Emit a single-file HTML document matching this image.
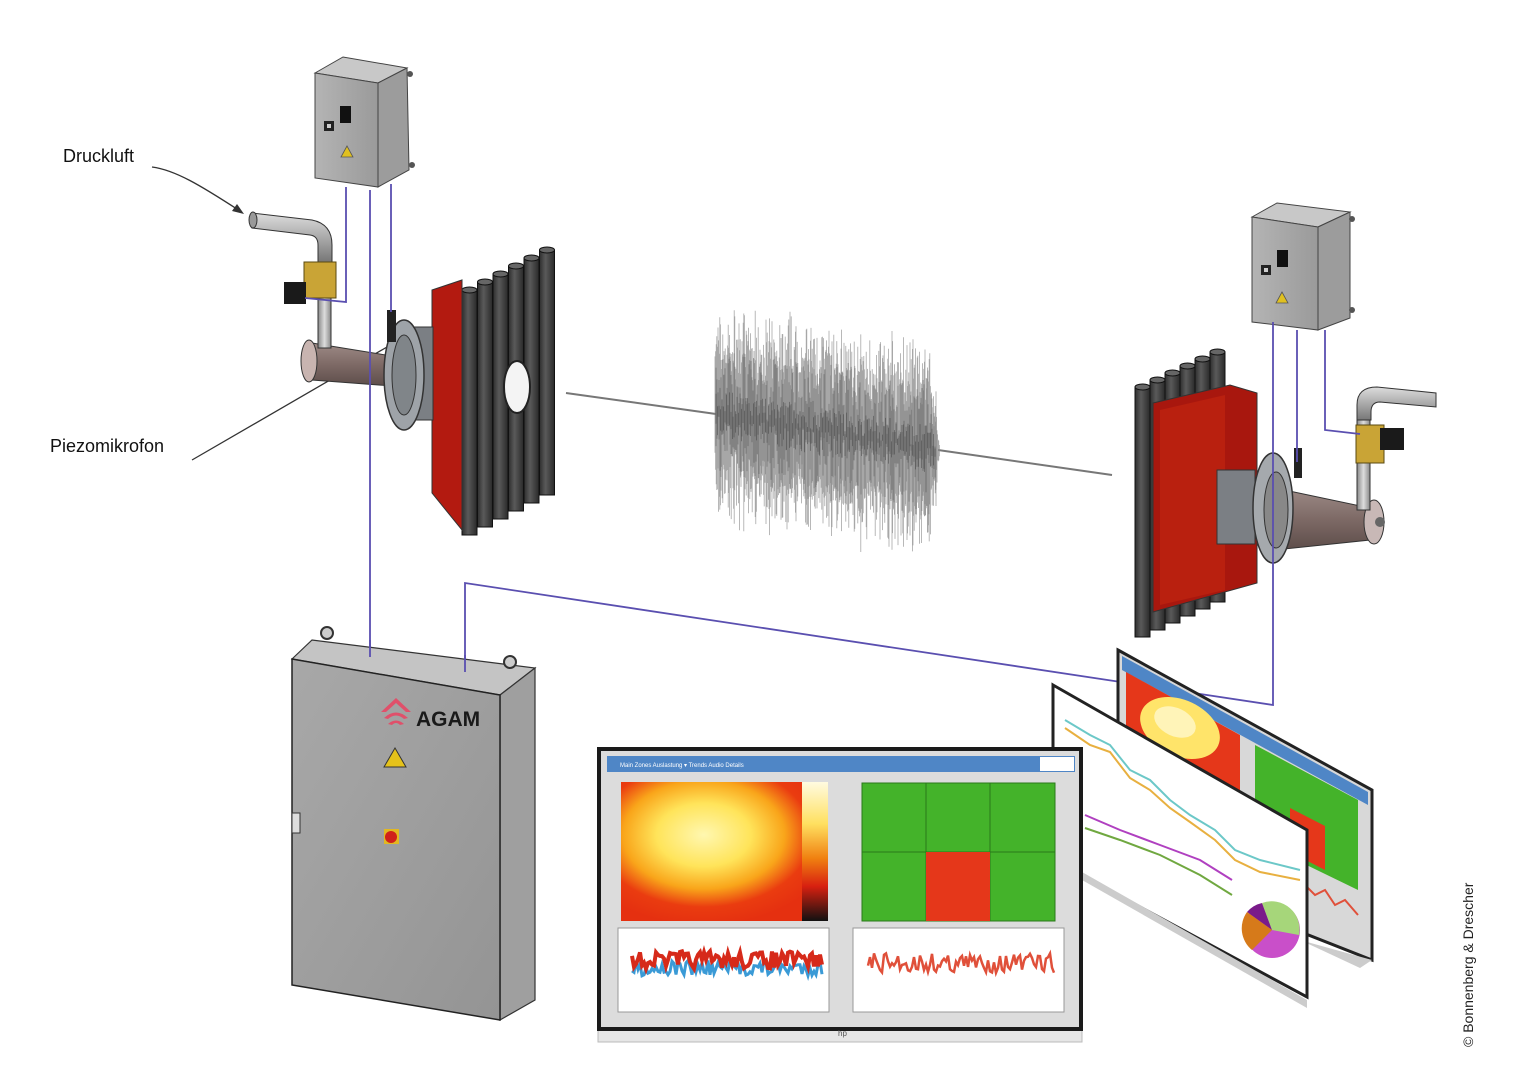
<!DOCTYPE html>
<html><head><meta charset="utf-8"><style>
html,body{margin:0;padding:0;background:#fff;}
svg{display:block;}
text{font-family:"Liberation Sans",sans-serif;}
</style></head><body>
<svg id="s" width="1534" height="1080" viewBox="0 0 1534 1080" xmlns="http://www.w3.org/2000/svg">
<defs>
<linearGradient id="gbox" x1="0" x2="1"><stop offset="0" stop-color="#b4b4b4"/><stop offset="1" stop-color="#9a9a9a"/></linearGradient>
<linearGradient id="cab" x1="0" x2="1" y1="0" y2="1"><stop offset="0" stop-color="#a8a8a8"/><stop offset="1" stop-color="#949494"/></linearGradient>
<linearGradient id="tube" x1="0" x2="1"><stop offset="0" stop-color="#2e2e2e"/><stop offset="0.4" stop-color="#5a5a5a"/><stop offset="1" stop-color="#2a2a2a"/></linearGradient>
<linearGradient id="pipe" x1="0" y1="0" x2="0" y2="1"><stop offset="0" stop-color="#9d8a86"/><stop offset="0.5" stop-color="#7e6a66"/><stop offset="1" stop-color="#5d4d4a"/></linearGradient>
<linearGradient id="spipe" x1="0" y1="0" x2="0" y2="1"><stop offset="0" stop-color="#ddd"/><stop offset="0.5" stop-color="#aaa"/><stop offset="1" stop-color="#777"/></linearGradient>
<linearGradient id="vpipe" x1="0" x2="1"><stop offset="0" stop-color="#888"/><stop offset="0.5" stop-color="#ddd"/><stop offset="1" stop-color="#888"/></linearGradient>
<radialGradient id="heat" cx="0.4" cy="0.38" r="0.65"><stop offset="0" stop-color="#fff7b0"/><stop offset="0.35" stop-color="#ffe45a"/><stop offset="0.6" stop-color="#f9a51a"/><stop offset="0.8" stop-color="#ea3c10"/><stop offset="1" stop-color="#e53010"/></radialGradient>
<linearGradient id="scale" x1="0" y1="0" x2="0" y2="1"><stop offset="0" stop-color="#fffbe0"/><stop offset="0.3" stop-color="#ffe060"/><stop offset="0.55" stop-color="#f08010"/><stop offset="0.75" stop-color="#d82010"/><stop offset="1" stop-color="#111"/></linearGradient>
</defs>

<text x="63" y="162" font-size="18" fill="#111">Druckluft</text>
<path d="M152,167 C175,170 200,185 240,211" stroke="#333" stroke-width="1.3" fill="none"/>
<polygon points="244,214 232,211 237,204" fill="#333"/>
<text x="50" y="452" font-size="18" fill="#111">Piezomikrofon</text>
<path d="M192,460 L387,347" stroke="#333" stroke-width="1.3" fill="none"/>

<polygon points="315,73 343,57 407,68 378,83" fill="#c8c8c8" stroke="#444" stroke-width="1"/>
<polygon points="378,83 407,68 409,170 378,187" fill="#9c9c9c" stroke="#444" stroke-width="1"/>
<polygon points="315,73 378,83 378,187 315,178" fill="url(#gbox)" stroke="#444" stroke-width="1"/>
<rect x="324" y="121" width="10" height="10" fill="#222"/><rect x="327" y="124" width="4" height="4" fill="#ccc"/>
<rect x="340" y="106" width="11" height="17" fill="#111"/>
<polygon points="347,146 341,157 353,157" fill="#e0c020" stroke="#555" stroke-width="0.8"/>
<circle cx="410" cy="74" r="3" fill="#555"/><circle cx="412" cy="165" r="3" fill="#555"/>

<polygon points="1252,217 1277,203 1350,212 1318,227" fill="#c8c8c8" stroke="#444" stroke-width="1"/>
<polygon points="1318,227 1350,212 1350,318 1318,330" fill="#9c9c9c" stroke="#444" stroke-width="1"/>
<polygon points="1252,217 1318,227 1318,330 1252,322" fill="url(#gbox)" stroke="#444" stroke-width="1"/>
<rect x="1261" y="265" width="10" height="10" fill="#222"/><rect x="1264" y="268" width="4" height="4" fill="#ccc"/>
<rect x="1277" y="250" width="11" height="17" fill="#111"/>
<polygon points="1282,292 1276,303 1288,303" fill="#e0c020" stroke="#555" stroke-width="0.8"/>
<circle cx="1352" cy="219" r="3" fill="#555"/><circle cx="1352" cy="310" r="3" fill="#555"/>

<g id="leftTubes"></g>
<polygon points="432,290 462,280 462,530 432,493" fill="#b31a10" stroke="#333" stroke-width="1"/>
<polygon points="312,343 392,356 392,386 312,380" fill="url(#pipe)" stroke="#333" stroke-width="1"/>
<ellipse cx="309" cy="361" rx="8" ry="21" fill="#c8b4b0" stroke="#333"/>
<rect x="405" y="327" width="28" height="93" fill="#7b7f84" stroke="#333"/>
<ellipse cx="404" cy="375" rx="20" ry="55" fill="#9ea3a8" stroke="#333" stroke-width="1.5"/>
<ellipse cx="404" cy="375" rx="12" ry="40" fill="#808589" stroke="#333"/>
<rect x="387" y="310" width="9" height="32" fill="#222"/>
<rect x="318" y="290" width="13" height="58" fill="url(#vpipe)" stroke="#333"/>
<path d="M252,213 L312,220 Q332,224 332,245 L332,262 L318,262 L318,245 Q318,236 310,235 L252,228 Z" fill="url(#spipe)" stroke="#333"/>
<ellipse cx="253" cy="220" rx="4" ry="8" fill="#999" stroke="#333"/>
<rect x="304" y="262" width="32" height="36" fill="#c9a436" stroke="#5a4a10"/>
<rect x="284" y="282" width="22" height="22" fill="#1a1a1a"/>

<g id="rightTubes"></g>
<polygon points="1153,403 1230,385 1257,393 1257,583 1153,612" fill="#a8170e" stroke="#333" stroke-width="1"/>
<polygon points="1160,410 1225,395 1225,590 1160,605" fill="#b9200f"/>
<rect x="1217" y="470" width="38" height="74" fill="#7b7f84" stroke="#333"/>
<polygon points="1275,488 1370,508 1370,540 1275,550" fill="url(#pipe)" stroke="#333"/>
<ellipse cx="1273" cy="508" rx="20" ry="55" fill="#a5a9ad" stroke="#333" stroke-width="1.5"/>
<ellipse cx="1276" cy="510" rx="12" ry="38" fill="#888" stroke="#333"/>
<ellipse cx="1374" cy="522" rx="10" ry="22" fill="#c8b8b6" stroke="#333"/>
<circle cx="1380" cy="522" r="5" fill="#666"/>
<rect x="1357" y="410" width="13" height="100" fill="url(#vpipe)" stroke="#333"/>
<path d="M1357,420 L1357,405 Q1357,387 1377,387 L1436,393 L1436,407 L1380,402 Q1371,402 1371,412 L1371,420 Z" fill="url(#spipe)" stroke="#333"/>
<rect x="1356" y="425" width="28" height="38" fill="#c9a436" stroke="#5a4a10"/>
<rect x="1380" y="428" width="24" height="22" fill="#1a1a1a"/>
<rect x="1294" y="448" width="8" height="30" fill="#222"/>

<line x1="566" y1="393" x2="716" y2="414" stroke="#777" stroke-width="2"/>
<line x1="938" y1="450" x2="1112" y2="475" stroke="#777" stroke-width="2"/>
<g id="noise"></g>

<g stroke="#5a4fb0" stroke-width="1.8" fill="none">
<polyline points="346,187 346,302 305,298"/>
<line x1="370" y1="190" x2="370" y2="655"/>
<line x1="391" y1="184" x2="391" y2="312"/>
<polyline points="465,660 465,583 1273,705 1273,322"/>
<line x1="1297" y1="330" x2="1297" y2="462"/>
<polyline points="1325,330 1325,430 1360,434"/>
</g>

<polygon points="292,659 312,640 535,668 500,695" fill="#c4c4c4" stroke="#333" stroke-width="1.2"/>
<polygon points="500,695 535,668 535,1000 500,1020" fill="#9f9f9f" stroke="#333" stroke-width="1.2"/>
<polygon points="292,659 500,695 500,1020 292,985" fill="url(#cab)" stroke="#222" stroke-width="1.5"/>
<circle cx="327" cy="633" r="6" fill="#ccc" stroke="#333" stroke-width="2"/>
<circle cx="510" cy="662" r="6" fill="#ccc" stroke="#333" stroke-width="2"/>
<line x1="370" y1="640" x2="370" y2="657" stroke="#5a4fb0" stroke-width="1.8"/>
<line x1="465" y1="655" x2="465" y2="672" stroke="#5a4fb0" stroke-width="1.8"/>
<g fill="#e0506a"><path d="M381,712 L396,698 L411,712 L406,712 L396,703 L386,712Z"/><path d="M384,718 Q396,707 408,718 L404,719 Q396,712 388,719Z"/><path d="M388,724 Q396,717 404,724 L400,725 Q396,721 392,725Z"/></g>
<text x="416" y="726" font-size="21" font-weight="bold" fill="#1a1a1a">AGAM</text>
<polygon points="395,748 384,767 406,767" fill="#e5c21a" stroke="#333" stroke-width="1"/>
<rect x="384" y="829" width="15" height="15" fill="#e2b820"/><circle cx="391" cy="837" r="6" fill="#d0201a"/>
<rect x="292" y="813" width="8" height="20" fill="#ddd" stroke="#333"/>

<!-- back screen B -->
<polygon points="1118,650 1372,790 1372,960 1118,860" fill="#d8d8d8" stroke="#222" stroke-width="3"/>
<polygon points="1372,960 1360,968 1300,940" fill="#ccc"/>
<polygon points="1122,656 1368,792 1368,805 1122,670" fill="#4f86c6"/>
<polygon points="1126,672 1240,735 1240,850 1126,790" fill="#e5371a"/>
<ellipse cx="1180" cy="728" rx="42" ry="28" fill="#ffe46a" transform="rotate(25 1180 728)"/>
<ellipse cx="1175" cy="722" rx="22" ry="14" fill="#fff4b8" transform="rotate(25 1175 722)"/>
<polygon points="1255,745 1358,800 1358,890 1255,840" fill="#44b32a"/>
<polygon points="1290,808 1325,826 1325,870 1290,852" fill="#e5371a"/>
<polyline points="1305,885 1315,895 1325,890 1335,905 1345,900 1358,915" stroke="#e0503a" stroke-width="2" fill="none"/>
<!-- front screen A -->
<polygon points="1053,685 1307,830 1307,997 1053,860" fill="#fff" stroke="#222" stroke-width="3"/>
<polygon points="1082,872 1307,1000 1307,1008 1082,880" fill="#ccc"/>
<polyline points="1065,720 1090,735 1110,745 1130,770 1150,780 1170,800 1190,815 1215,830 1235,850 1260,860 1300,870" stroke="#6cc8c8" stroke-width="2" fill="none"/>
<polyline points="1065,728 1090,745 1110,752 1130,778 1150,790 1170,808 1190,822 1215,840 1235,860 1260,872 1300,880" stroke="#e8b040" stroke-width="2" fill="none"/>
<polyline points="1085,815 1120,830 1160,845 1200,860 1232,880" stroke="#b040c0" stroke-width="2" fill="none"/>
<polyline points="1085,828 1120,840 1160,855 1200,875 1232,895" stroke="#70a840" stroke-width="2" fill="none"/>
<circle cx="1272" cy="930" r="28" fill="#c94fc9"/>
<path d="M1272,930 L1247,912 A28,28 0 0,1 1262,903 Z" fill="#7a1b8a"/>
<path d="M1272,930 L1262,903 A28,28 0 0,1 1299,935 Z" fill="#a6d67a"/>
<path d="M1272,930 L1247,912 A28,28 0 0,0 1252,950 Z" fill="#d67a1a"/>

<rect x="598" y="1020" width="484" height="22" fill="#e6e6e6" stroke="#bbb"/>
<rect x="599" y="749" width="482" height="280" fill="#dcdcdc" stroke="#1a1a1a" stroke-width="4"/>
<rect x="607" y="756" width="468" height="16" fill="#4f86c6"/>
<text x="620" y="767" font-size="6" fill="#fff">Main   Zones   Auslastung ▾    Trends    Audio    Details</text>
<rect x="1040" y="757" width="34" height="14" fill="#fff"/>
<rect x="621" y="782" width="207" height="139" fill="url(#heat)"/>
<rect x="802" y="782" width="26" height="139" fill="url(#scale)"/>
<rect x="862" y="783" width="193" height="138" fill="#44b32a" stroke="#2a7a1a"/>
<g stroke="#2a7a1a" stroke-width="1"><line x1="926" y1="783" x2="926" y2="921"/><line x1="990" y1="783" x2="990" y2="921"/><line x1="862" y1="852" x2="1055" y2="852"/></g>
<rect x="926" y="852" width="64" height="69" fill="#e5371a"/>
<rect x="618" y="928" width="211" height="84" fill="#fff" stroke="#999"/>
<rect x="853" y="928" width="211" height="84" fill="#fff" stroke="#999"/>
<g id="charts"></g>
<text x="838" y="1036" font-size="8" fill="#555">hp</text>

<text transform="translate(1473,1047) rotate(-90)" font-size="14" fill="#222">© Bonnenberg &amp; Drescher</text>
</svg>
<script>
(function(){
var NS="http://www.w3.org/2000/svg";
function el(t,a,p){var e=document.createElementNS(NS,t);for(var k in a)e.setAttribute(k,a[k]);document.getElementById(p).appendChild(e);return e;}
var seed=7;function r(){seed=(seed*16807)%2147483647;return seed/2147483647;}
for(var i=5;i>=0;i--){var x=462+i*15.5,t=290-i*8,b=535-i*8;
el('rect',{x:x,y:t,width:15,height:b-t,fill:'url(#tube)',stroke:'#111','stroke-width':1},'leftTubes');
el('ellipse',{cx:x+7.5,cy:t,rx:7.5,ry:3,fill:'#666',stroke:'#111'},'leftTubes');}
el('ellipse',{cx:517,cy:387,rx:13,ry:26,fill:'#f4f4f4',stroke:'#222','stroke-width':2},'leftTubes');
for(var i=5;i>=0;i--){var x=1135+i*15,t=387-i*7,b=637-i*7;
el('rect',{x:x,y:t,width:15,height:b-t,fill:'url(#tube)',stroke:'#111','stroke-width':1},'rightTubes');
el('ellipse',{cx:x+7.5,cy:t,rx:7.5,ry:3,fill:'#666',stroke:'#111'},'rightTubes');}
var d="";
for(var x=715;x<=940;x+=0.6){var f=(x-715)/225;var c=414+f*36;var amp=(x<930?120:120*(940-x)/10)*(0.5+0.5*r());
var a=c-amp*(0.5+0.5*r()),b=c+amp*(0.5+0.5*r());d+="M"+x.toFixed(1)+","+a.toFixed(1)+"L"+x.toFixed(1)+","+b.toFixed(1);}
el('path',{d:d,stroke:'#8a8a8a','stroke-width':0.8,'stroke-opacity':0.75,fill:'none'},'noise');
var d2="";for(var x=716;x<=936;x+=1){var c=414+(x-715)/225*36;d2+="M"+x+","+(c-70*r())+"L"+x+","+(c+70*r());}
el('path',{d:d2,stroke:'#555','stroke-width':0.8,'stroke-opacity':0.55,fill:'none'},'noise');
var d3="";for(var x=716;x<=936;x+=1.5){var c=414+(x-715)/225*36;d3+="M"+x+","+(c-25*r())+"L"+x+","+(c+25*r());}
el('path',{d:d3,stroke:'#333','stroke-width':0.8,'stroke-opacity':0.5,fill:'none'},'noise');
function line(x0,x1,y,amp,col,w){var p=[];for(var x=x0;x<=x1;x+=2){p.push(x+","+(y+(r()-0.5)*amp).toFixed(1));}el('polyline',{points:p.join(' '),stroke:col,'stroke-width':w,fill:'none'},'charts');}
line(632,822,968,16,'#3a9ad6',3);line(632,822,960,18,'#d62a1a',4);
line(868,1055,963,20,'#e0503a',2.5);
})();
</script>
</body></html>
